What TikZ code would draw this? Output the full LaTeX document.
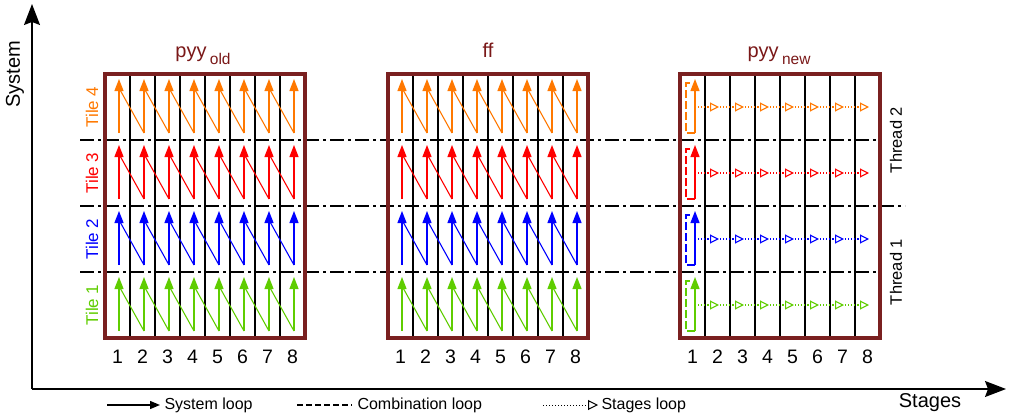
\documentclass[tikz,border=0pt]{standalone}
\usepackage{fontspec}
\setmainfont{Liberation Sans}
\usetikzlibrary{arrows.meta}
\definecolor{frame}{RGB}{122,32,32}
\definecolor{ttl}{RGB}{122,24,24}
\definecolor{tileA}{RGB}{95,205,0}
\definecolor{tileB}{RGB}{0,0,255}
\definecolor{tileC}{RGB}{255,0,0}
\definecolor{tileD}{RGB}{255,120,0}
\newcommand{\fs}[1]{\fontsize{#1}{#1}\selectfont}
\tikzset{
  boxframe/.style={draw=frame,line width=4pt},
  colline/.style={draw=black,line width=1.5pt},
  sepline/.style={draw=black,line width=1.6pt,dash pattern=on 14pt off 4pt on 3pt off 4pt},
  sysarrow/.style={line width=1.3pt,-{Triangle[length=12pt,width=9pt]}},
  sysdiag/.style={line width=1.1pt},
  comboline/.style={line width=1.3pt,dash pattern=on 8pt off 3pt},
  stagearrow/.style={line width=1.1pt,dotted,-{Triangle[open,length=9pt,width=9pt]}},
  axisarrow/.style={line width=1.3pt,-{Stealth[length=21pt,width=16pt,inset=3pt]}},
  numlbl/.style={font=\fs{19.5}},
  tilelbl/.style={rotate=90,font=\fs{17}},
  ttllbl/.style={anchor=base,text=ttl,font=\fs{20}},
  legendtxt/.style={anchor=west,font=\fs{16}},
}
\begin{document}
\begin{tikzpicture}[x=1pt,y=-1pt]
\useasboundingbox (0,0) rectangle (1009,420);

% axes
\coordinate (O) at (32,389);
\coordinate (ytip) at (32,4);
\coordinate (xtip) at (1006,389);
\draw[axisarrow] (O) -- (ytip);
\draw[axisarrow] (O) -- (xtip);
\node[rotate=90,font=\fs{20}] (ylbl) at (15,74) {System};
\node[font=\fs{20}] (xlbl) at (930,403) {Stages};

% tile separators
\coordinate (s1a) at (80,140); \coordinate (s1b) at (880,140);
\coordinate (s2a) at (80,206); \coordinate (s2b) at (905,206);
\coordinate (s3a) at (80,272); \coordinate (s3b) at (880,272);
\draw[sepline] (s1a) -- (s1b);
\draw[sepline] (s2a) -- (s2b);
\draw[sepline] (s3a) -- (s3b);

% tile labels
\node[tilelbl,text=tileD] (t4) at (92,107) {Tile 4};
\node[tilelbl,text=tileC] (t3) at (92,173) {Tile 3};
\node[tilelbl,text=tileB] (t2) at (92,239) {Tile 2};
\node[tilelbl,text=tileA] (t1) at (92,305) {Tile 1};

% thread labels
\node[rotate=90,font=\fs{16.5}] (th2) at (896,140) {Thread 2};
\node[rotate=90,font=\fs{16.5}] (th1) at (896,272) {Thread 1};

% grids of the three blocks
\foreach \bx/\bn in {105/a,388/b,680/c}{
  \foreach \k in {1,...,7}{
    \draw[colline] (\bx+25*\k,74) -- (\bx+25*\k,338);
  }
  \foreach \k in {1,...,8}{
    \node[numlbl] (\bn num\k) at (\bx+25*\k-12.5,357) {\k};
  }
}

% system loops in the first two blocks
\foreach \bx in {105,388}{
  \foreach \r/\col in {1/tileA,2/tileB,3/tileC,4/tileD}{
    \pgfmathsetmacro{\top}{338-66*\r}
    \foreach \k in {0,...,7}{
      \coordinate (lo) at (\bx+14+25*\k,\top+59);
      \coordinate (hi) at (\bx+14+25*\k,\top+5);
      \draw[sysarrow,draw=\col,fill=\col] (lo) -- (hi);
    }
    \foreach \k in {0,...,6}{
      \coordinate (mid) at (\bx+14+25*\k,\top+14);
      \coordinate (nx) at (\bx+39+25*\k,\top+59);
      \draw[sysdiag,draw=\col] (mid) -- (nx);
    }
  }
}

% combination and stage loops in the third block
\foreach \r/\col in {1/tileA,2/tileB,3/tileC,4/tileD}{
  \pgfmathsetmacro{\top}{338-66*\r}
  \coordinate (alo) at (695,\top+59);
  \coordinate (ahi) at (695,\top+5);
  \coordinate (ctop) at (691,\top+9);
  \coordinate (cleft) at (686,\top+9);
  \draw[comboline,draw=\col] (alo) -| (cleft) -- (ctop);
  \draw[sysarrow,draw=\col,fill=\col] (alo) -- (ahi);
  \foreach \k in {0,...,6}{
    \coordinate (p) at (695+25*\k,\top+33);
    \coordinate (q) at (719+25*\k,\top+33);
    \draw[stagearrow,draw=\col] (p) -- (q);
  }
}

% frames
\draw[boxframe] (105,74) rectangle (305,338);
\draw[boxframe] (388,74) rectangle (588,338);
\draw[boxframe] (680,74) rectangle (880,338);

% titles
\node[ttllbl] (ta) at (203,58) {pyy\,\raisebox{-7pt}{\fs{15.5}old}};
\node[ttllbl] (tb) at (488,58) {ff};
\node[ttllbl] (tc) at (779,58) {pyy\,\raisebox{-7pt}{\fs{15.5}new}};

% legend
\coordinate (l1a) at (107,405); \coordinate (l1b) at (160,405);
\draw[line width=1.3pt,-{Triangle[length=10pt,width=8pt]}] (l1a) -- (l1b);
\node[legendtxt] (l1t) at (161,405) {System loop};
\coordinate (l2a) at (297,405); \coordinate (l2b) at (352,405);
\draw[line width=1.3pt,dash pattern=on 6pt off 3pt] (l2a) -- (l2b);
\node[legendtxt] (l2t) at (354,405) {Combination loop};
\coordinate (l3a) at (543,405); \coordinate (l3b) at (598,405);
\draw[line width=1pt,dotted,-{Triangle[open,length=10pt,width=10pt]}] (l3a) -- (l3b);
\node[legendtxt] (l3t) at (598,405) {Stages loop};
\end{tikzpicture}
\end{document}
